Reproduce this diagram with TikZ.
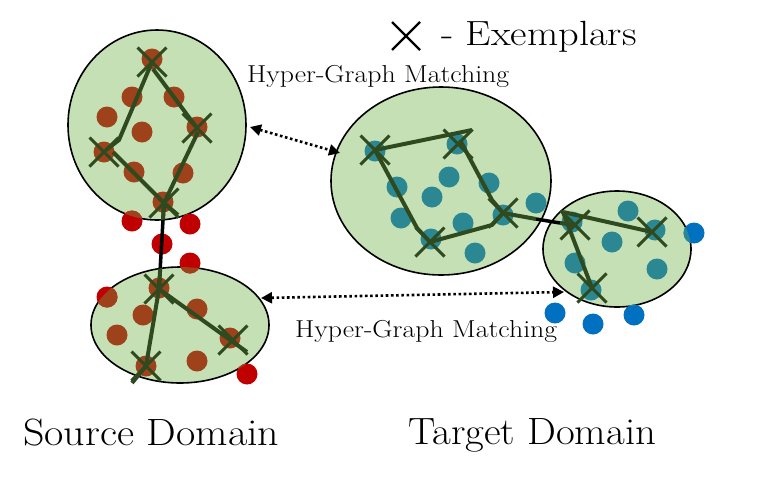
\documentclass[tikz,border=0pt]{standalone}
\usepackage{fontspec}
\usepackage{graphicx}
\usetikzlibrary{arrows.meta,shapes.geometric,calc}
\definecolor{ellfill}{HTML}{C5E0B4}
\definecolor{brownd}{HTML}{9E421C}
\definecolor{redd}{HTML}{C00000}
\definecolor{teald}{HTML}{2B8893}
\definecolor{blued}{HTML}{0070C0}
\definecolor{edgeg}{HTML}{2F4A1F}
\tikzset{
  ell/.style={draw=black, line width=1.6pt, fill=ellfill, ellipse, inner sep=0pt},
  gedge/.style={draw=edgeg, line width=4pt, line join=round},
  bedge/.style={draw=black, line width=3.5pt},
  xline/.style={draw=edgeg, line width=3pt},
  match/.style={draw=black, line width=2.6pt, dash pattern=on 2.6pt off 2.6pt,
    {Triangle[length=11pt,width=11pt]}-{Triangle[length=11pt,width=11pt]}},
  lbl/.style={inner sep=0pt, anchor=base west},
  exm/.pic={\draw[xline] (-14.5,-14.5)--(14.5,14.5) (-14.5,14.5)--(14.5,-14.5);}
}
\newcommand{\dotsrc}{%
  \foreach \p in {(152,59),(132,97),(174,97),(107,117),(142,132),(197,127),(104,152),(134,172),(183,173),(163,202),
                  (159,288),(143,315),(197,309),(117,335),(230,338),(146,366),(197,361)}
    {\fill \p circle[radius=10.5];}}
\newcommand{\dotsrcout}{%
  \foreach \p in {(132,221),(190,224),(162,244),(190,263),(107,297),(247,374)}
    {\fill \p circle[radius=10.5];}}
\newcommand{\dottgt}{%
  \foreach \p in {(375,151),(457,144),(397,187),(449,177),(489,183),(432,197),(401,218),(463,223),(536,203),(503,215),(431,239),(475,253),
                  (572,222),(628,211),(612,242),(655,230),(575,263),(657,269),(591,290)}
    {\fill \p circle[radius=10.5];}}
\newcommand{\dottgtout}{%
  \foreach \p in {(694,233),(555,313),(593,324),(634,315)}
    {\fill \p circle[radius=10.5];}}
\newcommand{\ellclip}{%
  \clip (157,125) ellipse [x radius=89, y radius=95]
        (180,325) ellipse [x radius=89, y radius=58]
        (441,181) ellipse [x radius=110, y radius=94]
        (617,249) ellipse [x radius=74, y radius=58];}
\begin{document}
\begin{tikzpicture}[x=1pt,y=-1pt]
\useasboundingbox (0,0) rectangle (766,480);
% domains
\node[ell, minimum width=178pt, minimum height=190pt] (s1) at (157,125) {};
\node[ell, minimum width=178pt, minimum height=116pt] (s2) at (180,325) {};
\node[ell, minimum width=220pt, minimum height=188pt] (t1) at (441,181) {};
\node[ell, minimum width=148pt, minimum height=116pt] (t2) at (617,249) {};
% dots outside
\begin{scope}[fill=redd] \dotsrcout \end{scope}
\begin{scope}[fill=blued] \dottgtout \end{scope}
\begin{scope}
  \ellclip
  \begin{scope}[fill=brownd] \dotsrc \dotsrcout \end{scope}
  \begin{scope}[fill=teald] \dottgt \dottgtout \end{scope}
\end{scope}
% exemplar positions
\coordinate (a1) at (152,62);
\coordinate (a2) at (197,128);
\coordinate (a3) at (104,152);
\coordinate (a4) at (164,203);
\coordinate (b1) at (159,289);
\coordinate (b2) at (233,340);
\coordinate (b3) at (146,366);
\coordinate (c1) at (375,150);
\coordinate (c2) at (458,144);
\coordinate (c3) at (430,242);
\coordinate (c4) at (503,213);
\coordinate (d1) at (575,225);
\coordinate (d2) at (652,232);
\coordinate (d3) at (592,288);
\coordinate (k1) at (536,219);
\coordinate (k2) at (560,223);
% connectors between domains
\draw[bedge] (a4) -- (b1);
\begin{scope}
  \ellclip
  \draw[gedge] (a4) -- (b1);
\end{scope}
\draw[gedge] (c4) -- (k1);
\draw[bedge] (k1) -- (k2);
\draw[gedge] (k2) -- (d1);
% graph edges
\draw[gedge] (a1) -- (119,140) -- (106,150);
\draw[gedge] (113,152) -- (a4) -- (178,215);
\draw[gedge] (153,69) -- (a2);
\draw[gedge] (198,132) -- (a4);
\draw[gedge] (b1) -- (247,352);
\draw[gedge] (b1) -- (b3) -- (132,383);
\draw[gedge] (c1) -- (472,130);
\draw[gedge] (460,140) -- (492,200) -- (c4);
\draw[gedge] (c1) -- (417,228) -- (c3);
\draw[gedge] (c3) -- (492,225) -- (c4);
\draw[gedge] (563,212) -- (d2);
\draw[gedge] (563,212) -- (d3);
% exemplar marks
\foreach \c in {a1,a2,a3,a4,b1,b2,b3,c1,c2,c3,c4,d1,d2,d3}
  \pic at (\c) {exm};
% matching arrows
\coordinate (m1a) at (250,127);
\coordinate (m1b) at (340,153);
\coordinate (m2a) at (261,298);
\coordinate (m2b) at (564,292);
\draw[match] (m1a) -- (m1b);
\draw[match] (m2a) -- (m2b);
% labels
\node[lbl, font=\fontsize{24.5}{28}\selectfont] (l1) at (247,82) {\scalebox{1.136}[1]{Hyper-Graph Matching}};
\node[lbl, font=\fontsize{24.5}{28}\selectfont] (l2) at (295,337) {\scalebox{1.136}[1]{Hyper-Graph Matching}};
\node[lbl, font=\fontsize{38}{42}\selectfont] (l3) at (23,445) {\scalebox{1.104}[1]{Source Domain}};
\node[lbl, font=\fontsize{38}{42}\selectfont] (l4) at (408,444) {\scalebox{1.073}[1]{Target Domain}};
\node[lbl, font=\fontsize{35}{40}\selectfont] (l5) at (441,45) {\scalebox{1.156}[1]{- Exemplars}};
\coordinate (xk) at (406,36);
\draw[black, line width=2.2pt] ($(xk)+(-14,-14)$) -- ($(xk)+(14,14)$);
\draw[black, line width=2.2pt] ($(xk)+(-14,14)$) -- ($(xk)+(14,-14)$);
\end{tikzpicture}
\end{document}
